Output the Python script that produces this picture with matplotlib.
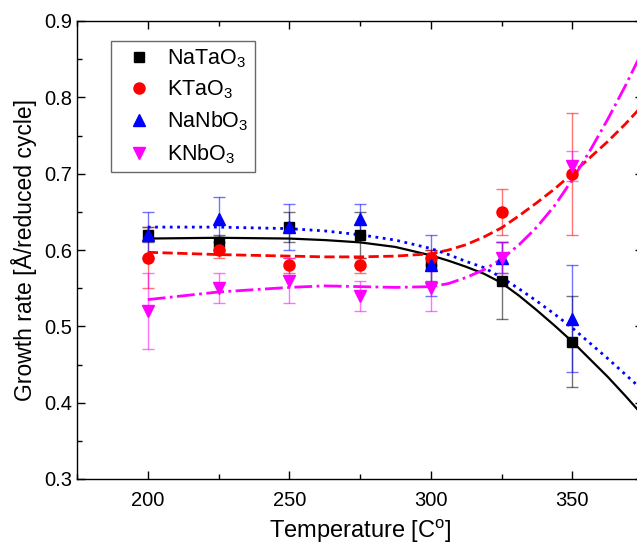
import numpy as np
import matplotlib
matplotlib.use('Agg')
import matplotlib.pyplot as plt
from matplotlib.ticker import MultipleLocator

plt.rcParams['font.family'] = ['Liberation Sans', 'DejaVu Sans']
plt.rcParams['mathtext.fontset'] = 'custom'
plt.rcParams['mathtext.rm'] = 'Liberation Sans'
plt.rcParams['mathtext.it'] = 'Liberation Sans:italic'
plt.rcParams['mathtext.bf'] = 'Liberation Sans:bold'

# measured growth rates
temps = [200, 225, 250, 275, 300, 325, 350]
natao3 = [0.62, 0.61, 0.63, 0.62, 0.58, 0.56, 0.48]
natao3_err = [0.01, 0.01, 0.02, 0.03, 0.02, 0.05, 0.06]
ktao3 = [0.59, 0.60, 0.58, 0.58, 0.59, 0.65, 0.70]
ktao3_err = [0.04, 0.01, 0.01, 0.01, 0.01, 0.03, 0.08]
nanbo3 = [0.62, 0.64, 0.63, 0.64, 0.58, 0.59, 0.51]
nanbo3_err = [0.03, 0.03, 0.03, 0.02, 0.04, 0.02, 0.07]
knbo3 = [0.52, 0.55, 0.56, 0.54, 0.55, 0.59, 0.71]
knbo3_err = [0.05, 0.02, 0.03, 0.02, 0.03, 0.02, 0.02]

# fitted curves
fit_t = [200, 225, 250, 262.5, 275, 287.5, 300, 306.25, 312.5, 318.75, 325,
         331.25, 337.5, 343.75, 350, 356.25, 362.5, 368.75, 375]
fit_natao3 = [0.615, 0.616, 0.615, 0.613, 0.610, 0.604, 0.593, 0.586, 0.578, 0.569, 0.557,
              0.540, 0.521, 0.501, 0.480, 0.457, 0.434, 0.409, 0.383]
fit_ktao3 = [0.597, 0.594, 0.592, 0.591, 0.591, 0.592, 0.595, 0.600, 0.607, 0.617, 0.629,
             0.645, 0.662, 0.680, 0.700, 0.721, 0.742, 0.765, 0.790]
fit_nanbo3 = [0.630, 0.630, 0.628, 0.625, 0.620, 0.613, 0.602, 0.594, 0.585, 0.577, 0.564,
              0.549, 0.533, 0.516, 0.498, 0.478, 0.458, 0.437, 0.416]
fit_knbo3 = [0.535, 0.545, 0.551, 0.553, 0.552, 0.551, 0.552, 0.556, 0.564, 0.574, 0.588,
             0.607, 0.630, 0.658, 0.692, 0.730, 0.771, 0.815, 0.862]

W, H = 637, 547
fig = plt.figure(figsize=(W / 100, H / 100), dpi=100)
ax = fig.add_axes([77 / W, (H - 479) / H, (643 - 77) / W, (479 - 21) / H])

series = [
    (natao3, natao3_err, fit_natao3, 'black', 's', 7, '-', 'NaTaO$_3$'),
    (ktao3, ktao3_err, fit_ktao3, 'red', 'o', 8, '--', 'KTaO$_3$'),
    (nanbo3, nanbo3_err, fit_nanbo3, 'blue', '^', 9, ':', 'NaNbO$_3$'),
    (knbo3, knbo3_err, fit_knbo3, 'magenta', 'v', 9, '-.', 'KNbO$_3$'),
]

handles = []
for vals, err, fit, col, mk, ms, ls, lab in series:
    ax.errorbar(temps, vals, yerr=err, fmt='none', ecolor=col, elinewidth=1,
                capsize=4.5, capthick=1, alpha=0.55, zorder=2)
    ax.plot(fit_t, fit, color=col, linestyle=ls, lw=2 if ls != '-' else 1.6, zorder=3)
    h, = ax.plot(temps, vals, linestyle='none', marker=mk, ms=ms, color=col,
                 markeredgecolor=col, label=lab, zorder=4)
    handles.append(h)

ax.set_xlim(175, 375)
ax.set_ylim(0.3, 0.9)
ax.xaxis.set_major_locator(MultipleLocator(50))
ax.xaxis.set_minor_locator(MultipleLocator(25))
ax.yaxis.set_major_locator(MultipleLocator(0.1))
ax.yaxis.set_minor_locator(MultipleLocator(0.05))
ax.tick_params(which='both', direction='in', top=True, right=True, labelsize=14.5, width=1)
ax.tick_params(which='major', length=6)
ax.tick_params(which='minor', length=3.5)
ax.tick_params(axis='x', pad=9)
for s in ax.spines.values():
    s.set_linewidth(1)

ax.set_xlabel('Temperature [C$^{\\rm o}$]', fontsize=17, labelpad=5)
ax.set_ylabel('Growth rate [Å/reduced cycle]', fontsize=16.5, labelpad=5)

leg = ax.legend(handles=handles, loc='upper left', bbox_to_anchor=(111 / W, 1 - 41 / H),
                bbox_transform=fig.transFigure, fontsize=15.5, frameon=True, fancybox=False,
                edgecolor='#444444', handlelength=2.0, handletextpad=0.3,
                labelspacing=0.4, borderpad=0.3, borderaxespad=0)
leg.get_frame().set_linewidth(1)

fig.savefig('out.png', dpi=100)
